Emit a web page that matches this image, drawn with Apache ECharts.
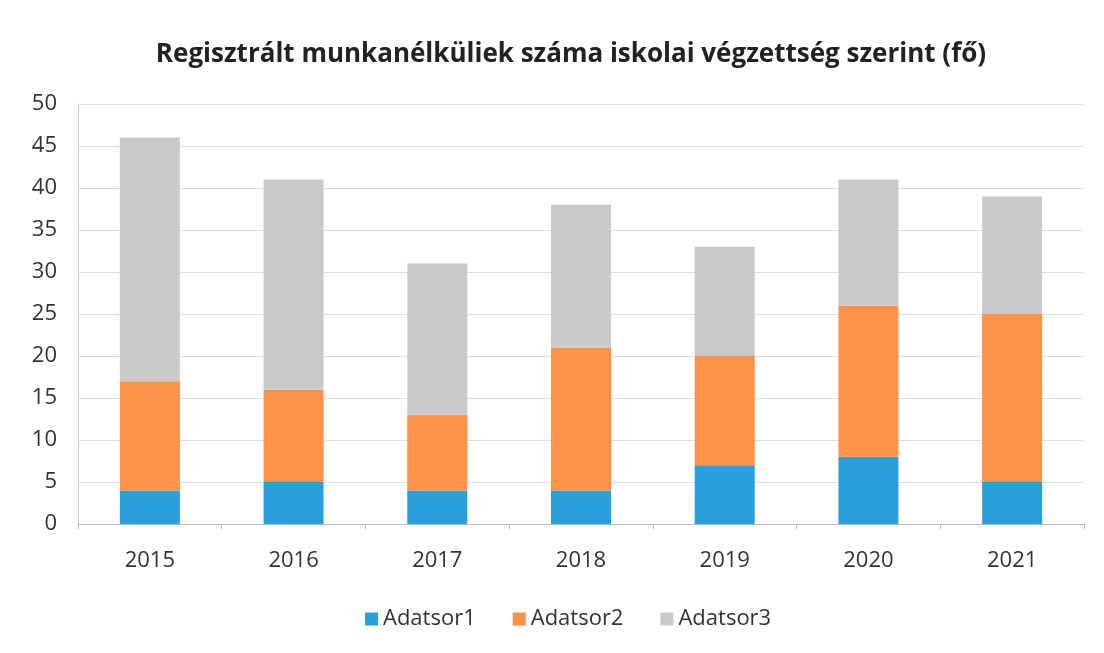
<!DOCTYPE html>
<html><head><meta charset="utf-8">
<script src="https://cdn.jsdelivr.net/npm/echarts@6/dist/echarts.min.js"></script>
<style>html,body{margin:0;padding:0;background:#fff}#c{width:1104px;height:653px}</style>
</head><body><div id="c"></div>
<script>
const categories = ['2015','2016','2017','2018','2019','2020','2021'];
const seriesNames = ['Adatsor1','Adatsor2','Adatsor3'];
const adatsor1 = [4, 5, 4, 4, 7, 8, 5];
const adatsor2 = [13, 11, 9, 17, 13, 18, 20];
const adatsor3 = [29, 25, 18, 17, 13, 15, 14];
const colors = ['#2A9FDD', '#FF9148', '#C8C9CB'];
const font = '"Open Sans", sans-serif';
const chart = echarts.init(document.getElementById('c'), null, {renderer:'canvas'});
chart.setOption({
  animation:false,
  backgroundColor:'#fff',
  title:{text:'Regisztrált munkanélküliek száma iskolai végzettség szerint (fő)', left:566, textAlign:'center', top:37,
    textStyle:{fontFamily:font, fontSize:26, fontWeight:'bold', color:'#222'}},
  legend:{bottom:18, left:360, itemWidth:13, itemHeight:13, itemGap:37, icon:'rect',
    textStyle:{fontFamily:font, fontSize:22, color:'#333'}, data:seriesNames},
  grid:{left:78, right:20, top:104, bottom:129, containLabel:false},
  xAxis:{type:'category', data:categories, boundaryGap:true,
    axisLine:{lineStyle:{color:'#bbb'}}, axisTick:{show:true, length:5, lineStyle:{color:'#bbb'}},
    axisLabel:{fontFamily:font, fontSize:22, color:'#333', margin:26}},
  yAxis:{type:'value', min:0, max:50, interval:5,
    axisLine:{show:true, lineStyle:{color:'#ccc'}},
    splitLine:{lineStyle:{color:'#dedede'}},
    axisLabel:{fontFamily:font, fontSize:22, color:'#333', margin:21}},
  series:[
    {name:seriesNames[0], type:'bar', stack:'s', data:adatsor1, barWidth:60, itemStyle:{color:colors[0]}},
    {name:seriesNames[1], type:'bar', stack:'s', data:adatsor2, barWidth:60, itemStyle:{color:colors[1]}},
    {name:seriesNames[2], type:'bar', stack:'s', data:adatsor3, barWidth:60, itemStyle:{color:colors[2]}}
  ]
});
</script></body></html>
